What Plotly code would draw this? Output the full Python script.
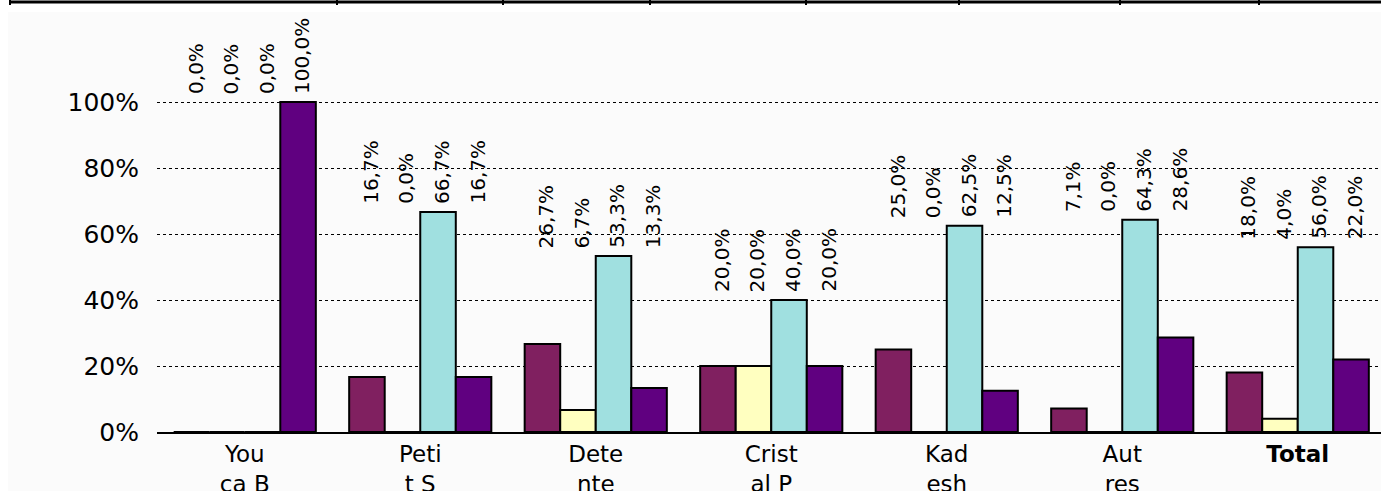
import plotly.graph_objects as go

# ---- data ----
categories = ["You<br>ca B", "Peti<br>t S", "Dete<br>nte", "Crist<br>al P", "Kad<br>esh", "Aut<br>res", "<b>Total</b>"]
series_names = ["S1", "S2", "S3", "S4"]
s1 = [0.0, 16.7, 26.7, 20.0, 25.0, 7.1, 18.0]
s2 = [0.0, 0.0, 6.7, 20.0, 0.0, 0.0, 4.0]
s3 = [0.0, 66.7, 53.3, 40.0, 62.5, 64.3, 56.0]
s4 = [100.0, 16.7, 13.3, 20.0, 12.5, 28.6, 22.0]
y_ticks = [0, 20, 40, 60, 80, 100]
y_tick_labels = ["0%", "20%", "40%", "60%", "80%", "100%"]

series = [s1, s2, s3, s4]
colors = ["#802060", "#FFFFC0", "#A0E0E0", "#600080"]

W, H = 1381, 491
ML, MR, MT, MB = 157, 0, 12, 59
PW = W - ML - MR
PH = H - MT - MB
cat_px = 175.5
x_hi = -0.5 + PW / cat_px
bargap = 0.19
y_top = 100 * (PH / 330.0)

FONT = "DejaVu Sans, Liberation Sans, Arial"

fig = go.Figure()
xs = list(range(len(categories)))
for name, vals, c in zip(series_names, series, colors):
    fig.add_trace(go.Bar(
        x=xs, y=vals, name=name,
        marker=dict(color=c, line=dict(color="black", width=2)),
        showlegend=False, hoverinfo="skip",
    ))

# data labels: rotated, above each bar, bottom aligned to group max
n = len(series)
bw = (1 - bargap) / n
annotations = []
for i in range(len(categories)):
    gmax = max(s[i] for s in series)
    for j, s in enumerate(series):
        txt = f"{s[i]:.1f}%".replace(".", ",")
        annotations.append(dict(
            x=i + (j - (n - 1) / 2) * bw, y=gmax, xref="x", yref="y",
            text=txt, textangle=-90, showarrow=False,
            xanchor="center", yanchor="bottom", xshift=4, yshift=6,
            font=dict(family=FONT, size=20, color="black"),
        ))

def px_x(p):
    return (p - ML) / PW

def px_y(p):
    return (H - MB - p) / PH

shapes = [
    dict(type="rect", xref="paper", yref="paper", x0=px_x(8), x1=px_x(W), y0=px_y(12), y1=px_y(H),
         fillcolor="#FBFBFB", line=dict(width=0), layer="below"),
    dict(type="line", xref="paper", yref="paper", x0=px_x(9), x1=px_x(W), y0=px_y(2), y1=px_y(2),
         line=dict(color="black", width=3)),
]
for vx in [10, 337, 503, 650, 806, 959, 1120, 1259]:
    shapes.append(dict(type="line", xref="paper", yref="paper", x0=px_x(vx), x1=px_x(vx),
                       y0=px_y(0), y1=px_y(5), line=dict(color="black", width=2)))

fig.update_layout(
    width=W, height=H,
    margin=dict(l=ML, r=MR, t=MT, b=MB, pad=0, autoexpand=False),
    paper_bgcolor="white", plot_bgcolor="rgba(0,0,0,0)",
    barmode="group", bargap=bargap, bargroupgap=0,
    annotations=annotations, shapes=shapes,
    font=dict(family=FONT, color="black"),
)
fig.update_xaxes(
    range=[-0.5, x_hi], tickmode="array", tickvals=xs, ticktext=categories,
    showgrid=False, showline=True, linecolor="black", linewidth=2, ticks="",
    tickfont=dict(family=FONT, size=23, color="black"),
    zeroline=False, automargin=False,
)
fig.update_yaxes(
    range=[0, y_top], tickmode="array", tickvals=y_ticks, ticktext=y_tick_labels,
    showgrid=True, gridcolor="black", gridwidth=1, griddash="dot",
    showline=False, zeroline=False, ticks="",
    tickfont=dict(family=FONT, size=25, color="black"),
    ticklabelstandoff=17, automargin=False,
)

fig.write_html(
    "out.html",
    config={"displayModeBar": False},
    post_script="document.body.style.margin='0';document.body.style.overflow='hidden';",
)
